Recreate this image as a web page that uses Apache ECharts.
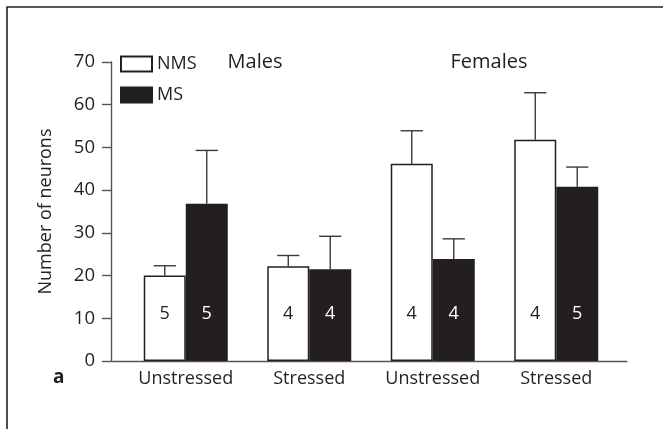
<!DOCTYPE html>
<html>
<head>
<meta charset="utf-8">
<script src="https://cdn.jsdelivr.net/npm/echarts@6/dist/echarts.min.js"></script>
<style>
html,body{margin:0;padding:0;background:#fff;}
#chart{width:663px;height:429px;}
</style>
</head>
<body>
<div id="chart"></div>
<script>
// ---- data ----
var categories = ['Unstressed', 'Stressed', 'Unstressed', 'Stressed'];
var groupTitles = ['Males', 'Females'];
var seriesNames = ['NMS', 'MS'];
var nmsMean = [20.0, 22.2, 46.2, 51.8];
var nmsErrTop = [22.3, 24.7, 53.9, 62.8];
var msMean = [36.8, 21.5, 23.9, 40.8];
var msErrTop = [49.3, 29.2, 28.6, 45.4];
var nmsN = [5, 4, 4, 4];
var msN = [5, 4, 4, 5];
var yTicks = [0, 10, 20, 30, 40, 50, 60, 70];
var panelLetter = 'a';

var FONT = '"Open Sans", "Noto Sans", sans-serif';
var INK = '#231f20';

var chart = echarts.init(document.getElementById('chart'), null, {renderer: 'canvas'});

function errSeries(mean, top, side) {
  return {
    type: 'custom',
    xAxisIndex: 1, yAxisIndex: 1,
    silent: true,
    z: 1,
    data: mean.map(function (m, i) { return [i, m, top[i]]; }),
    renderItem: function (params, api) {
      var band = api.size([1, 0])[0];
      var off = side * band * 0.17;
      var p0 = api.coord([api.value(0), api.value(1)]);
      var p1 = api.coord([api.value(0), api.value(2)]);
      var x = p0[0] + off;
      var cap = band * 0.09;
      var st = {stroke: '#3a3a3a', lineWidth: 1.4, fill: null};
      return {
        type: 'group',
        children: [
          {type: 'line', shape: {x1: x, y1: p0[1], x2: x, y2: p1[1]}, style: st},
          {type: 'line', shape: {x1: x - cap, y1: p1[1], x2: x + cap, y2: p1[1]}, style: st}
        ]
      };
    }
  };
}

function barLabel(arr, color) {
  return {
    show: true,
    position: 'insideBottom',
    distance: 38,
    color: color,
    fontSize: 18,
    lineHeight: 18,
    fontFamily: FONT,
    formatter: function (p) { return String(arr[p.dataIndex]); }
  };
}

var option = {
  animation: false,
  backgroundColor: '#fff',
  textStyle: {fontFamily: FONT, color: INK},
  title: [
    {text: groupTitles[0], left: 255, top: 52, textAlign: 'center', padding: 0,
     textStyle: {fontFamily: FONT, fontSize: 20, fontWeight: 'normal', color: INK}},
    {text: groupTitles[1], left: 489, top: 52, textAlign: 'center', padding: 0,
     textStyle: {fontFamily: FONT, fontSize: 20, fontWeight: 'normal', color: INK}},
    {text: panelLetter, left: 53, top: 368, padding: 0,
     textStyle: {fontFamily: FONT, fontSize: 19, fontWeight: 'bold', color: INK}}
  ],
  legend: {
    orient: 'vertical',
    left: 120, top: 55, padding: 0,
    itemWidth: 31, itemHeight: 15, itemGap: 13,
    icon: 'rect',
    data: seriesNames,
    textStyle: {fontFamily: FONT, fontSize: 18, color: INK},
    selectedMode: false
  },
  grid: [
    {left: 111, right: 36, top: 62, bottom: 68},
    {left: 124, right: 45, top: 62, bottom: 68}
  ],
  xAxis: [
    {type: 'value', gridIndex: 0, min: 0, max: 1,
     axisLine: {show: true, lineStyle: {color: '#555', width: 1.4}},
     axisTick: {show: false}, axisLabel: {show: false}, splitLine: {show: false}},
    {type: 'category', gridIndex: 1, data: categories,
     axisLine: {show: false}, axisTick: {show: false},
     axisLabel: {fontFamily: FONT, fontSize: 18, color: INK, margin: 9}}
  ],
  yAxis: [
    {type: 'value', gridIndex: 0, min: yTicks[0], max: yTicks[yTicks.length - 1], interval: 10,
     name: 'Number of neurons', nameLocation: 'middle', nameGap: 56,
     nameTextStyle: {fontFamily: FONT, fontSize: 18, color: INK},
     axisLine: {show: true, lineStyle: {color: '#555', width: 1.4}},
     axisTick: {show: true, inside: false, length: 9, lineStyle: {color: '#555', width: 1.4}},
     axisLabel: {fontFamily: FONT, fontSize: 18.5, color: INK, margin: 16},
     splitLine: {show: false}},
    {type: 'value', gridIndex: 1, min: yTicks[0], max: yTicks[yTicks.length - 1],
     show: false, splitLine: {show: false}}
  ],
  series: [
    errSeries(nmsMean, nmsErrTop, -1),
    errSeries(msMean, msErrTop, 1),
    {
      name: seriesNames[0], type: 'bar', xAxisIndex: 1, yAxisIndex: 1,
      data: nmsMean, barWidth: 42, barGap: '0%', z: 3,
      itemStyle: {color: '#ffffff', borderColor: INK, borderWidth: 1.5},
      label: barLabel(nmsN, INK)
    },
    {
      name: seriesNames[1], type: 'bar', xAxisIndex: 1, yAxisIndex: 1,
      data: msMean, barWidth: 42, z: 3,
      itemStyle: {color: INK, borderColor: INK, borderWidth: 1.5},
      label: barLabel(msN, '#ffffff')
    }
  ],
  graphic: [
    {type: 'polyline', silent: true, z: 10,
     shape: {points: [[7, 429], [7, 7], [663, 7]]},
     style: {stroke: '#222', lineWidth: 1.6, fill: null}}
  ]
};
chart.setOption(option);
</script>
</body>
</html>
